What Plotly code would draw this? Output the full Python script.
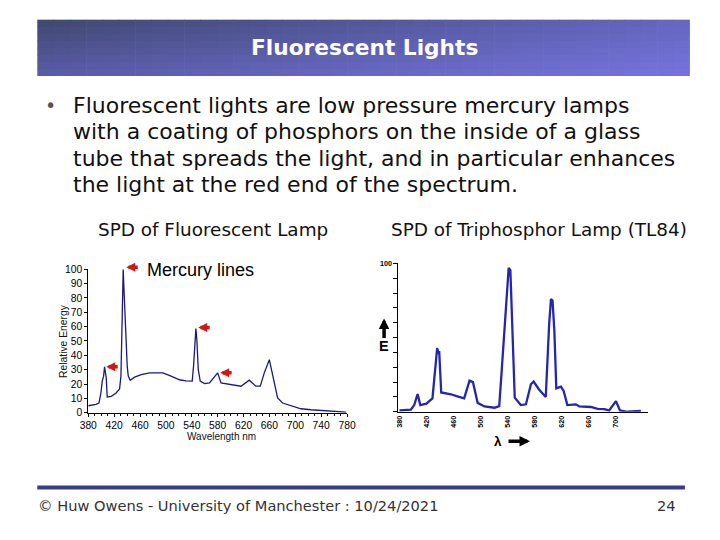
import plotly.graph_objects as go

# page geometry: figure sits inside the default 8px body margin
OX, OY = 8, 8
FW, FH = 704, 524
# measured photo mapping (photo px = A + S * page px)
SX, AX0 = 0.975, 7.9
SY, AY0 = 0.973, 6.6

# ---------------- data ----------------
left_wl = [380, 392, 396.5, 399.6, 401.6, 403.7, 405.2, 406.8, 407.8, 409.3, 415.5, 423, 428.4,
           430.5, 432.5, 434, 435.6, 437, 438.7, 440.2, 441.8, 444.9, 451.6, 461.9, 474.7, 495.3,
           508, 521, 531, 540.6, 542.7, 544.7, 546.3, 547.8, 550, 553, 559.7, 567.4, 575, 580,
           585.1, 600.5, 616, 628.8, 639, 645.8, 652, 659.8, 664.9, 672.6, 680.4, 693.3, 708.7,
           724, 742, 760, 778.5]
left_energy = [4.9, 5.8, 6.8, 13.8, 22, 25.5, 32, 27.8, 24.3, 11, 11.4, 13.8, 16.6,
               25.5, 58, 100, 81.5, 65, 58, 32.5, 25.5, 22.7, 24.8, 26.6, 27.8, 27.8,
               25.5, 23, 22.2, 22, 32.5, 46.5, 58.6, 51, 30, 22, 20.3, 20.8, 25.5, 27.8,
               20.8, 19.6, 18.5, 22.7, 18.5, 18.5, 27.8, 37, 25.5, 10.3, 6.8, 4.9, 2.8,
               2.1, 1.6, 0.7, 0.5]
left_xticks = [380, 420, 460, 500, 540, 580, 620, 660, 700, 740, 780]
left_yticks = [0, 10, 20, 30, 40, 50, 60, 70, 80, 90, 100]

right_wl = [380, 397, 402, 407, 411, 420, 429, 433, 436, 438, 439, 442, 456.5, 466, 476, 484,
            489, 496, 506, 521, 528, 532, 535.5, 539.5, 542, 544.5, 548, 551, 560, 567.6, 575,
            579, 587, 597, 602, 604.7, 607, 609.7, 612.6, 619.5, 623.5, 629, 641.7, 646.7, 664,
            674, 683.7, 691, 701, 707, 718, 728, 738]
right_energy = [1, 1.4, 4.5, 12, 4.5, 5.5, 9, 27.6, 43, 39, 41, 13, 11.8, 10.4, 9, 21,
                20, 6, 3.6, 2.7, 3.8, 30, 52.5, 81, 97, 95.5, 45.7, 9.5, 4.5, 5, 18.5,
                20.4, 15, 10, 59, 76, 75, 55, 15.8, 17, 14, 4.5, 5, 3.6, 3.2,
                2, 1.8, 0.9, 7.2, 0.9, 0, 0, 0.5]
right_xticks = [380, 420, 460, 500, 540, 580, 620, 660, 700]
right_yticks = [0, 10, 20, 30, 40, 50, 60, 70, 80, 90, 100]

title = "Fluorescent Lights"
bullet_lines = [
    "Fluorescent lights are low pressure mercury lamps",
    "with a coating of phosphors on the inside of a glass",
    "tube that spreads the light, and in particular enhances",
    "the light at the red end of the spectrum.",
]
footer = "© Huw Owens - University of Manchester : 10/24/2021"
page = "24"


def px(x):
    d = (x - AX0) / SX
    return (d - OX) / FW


def py(y):
    d = (y - AY0) / SY
    return 1 - (d - OY) / FH


fig = go.Figure()

fig.add_trace(go.Scatter(x=left_wl, y=left_energy, mode="lines",
                         line=dict(color="#1a1a78", width=1.3),
                         xaxis="x", yaxis="y", showlegend=False, hoverinfo="skip"))
fig.add_trace(go.Scatter(x=right_wl, y=right_energy, mode="lines",
                         line=dict(color="#2626aa", width=2.3),
                         xaxis="x2", yaxis="y2", showlegend=False, hoverinfo="skip"))

shapes = []
# title bar gradient (bilinear)
TL, BL, TR, BR = (63, 72, 112), (90, 92, 168), (100, 102, 192), (118, 116, 222)
x0b, x1b, y0b, y1b = 36, 689, 21, 77
nc, nr = 40, 8
for i in range(nc):
    for j in range(nr):
        u = (i + 0.5) / nc
        v = (j + 0.5) / nr
        c = [round((1 - u) * (1 - v) * TL[k] + u * (1 - v) * TR[k] + (1 - u) * v * BL[k] + u * v * BR[k])
             for k in range(3)]
        xa = x0b + (x1b - x0b) * i / nc
        xb = x0b + (x1b - x0b) * (i + 1) / nc + 0.6
        ya = y0b + (y1b - y0b) * j / nr
        yb = y0b + (y1b - y0b) * (j + 1) / nr + 0.6
        shapes.append(dict(type="rect", xref="paper", yref="paper",
                           x0=px(xa), x1=px(min(xb, x1b)), y0=py(ya), y1=py(min(yb, y1b)),
                           fillcolor="rgb(%d,%d,%d)" % tuple(c), line=dict(width=0), layer="below"))
# bottom bar
shapes.append(dict(type="rect", xref="paper", yref="paper", x0=px(36), x1=px(684),
                   y0=py(488), y1=py(484), fillcolor="#363b8c", line=dict(width=0)))

ann = []
ann.append(dict(text="<b>" + title + "</b>", x=px(363), y=py(49), xref="paper", yref="paper",
                showarrow=False, font=dict(family="DejaVu Sans", size=21.7, color="white"),
                xanchor="center", yanchor="middle"))
ann.append(dict(text="•", x=px(49), y=py(106), xref="paper", yref="paper", showarrow=False,
                font=dict(family="DejaVu Sans", size=19, color="#555555"),
                xanchor="center", yanchor="middle"))
for k, line in enumerate(bullet_lines):
    ann.append(dict(text=line, x=px(70), y=py(106 + 26.4 * k), xref="paper", yref="paper",
                    showarrow=False, font=dict(family="DejaVu Sans", size=22, color="#111111"),
                    xanchor="left", yanchor="middle"))
ann.append(dict(text="SPD of Fluorescent Lamp", x=px(212), y=py(230), xref="paper", yref="paper",
                showarrow=False, font=dict(family="DejaVu Sans", size=18.4, color="#111111"),
                xanchor="center", yanchor="middle"))
ann.append(dict(text="SPD of Triphosphor Lamp (TL84)", x=px(538), y=py(230), xref="paper", yref="paper",
                showarrow=False, font=dict(family="DejaVu Sans", size=18.4, color="#111111"),
                xanchor="center", yanchor="middle"))
ann.append(dict(text=footer, x=px(35), y=py(504), xref="paper", yref="paper", showarrow=False,
                font=dict(family="DejaVu Sans", size=14.6, color="#333333"),
                xanchor="left", yanchor="middle"))
ann.append(dict(text=page, x=px(677), y=py(504), xref="paper", yref="paper", showarrow=False,
                font=dict(family="DejaVu Sans", size=14.6, color="#333333"),
                xanchor="right", yanchor="middle"))

# left chart labels
ann.append(dict(text="Mercury lines", x=px(144), y=py(270), xref="paper", yref="paper",
                showarrow=False, font=dict(family="Arial", size=18, color="black"),
                xanchor="left", yanchor="middle"))
ann.append(dict(text="Wavelength nm", x=px(220), y=py(435), xref="paper", yref="paper",
                showarrow=False, font=dict(family="Arial", size=10, color="#111111"),
                xanchor="center", yanchor="middle"))
ann.append(dict(text="Relative Energy", x=px(62), y=py(340), xref="paper", yref="paper",
                showarrow=False, font=dict(family="Arial", size=10.3, color="#111111"),
                textangle=-90, xanchor="center", yanchor="middle"))
# red arrows pointing at the mercury lines (head position in slide pixels)
for hx, hy in [(125, 267), (197, 327), (105, 366), (219, 372)]:
    ann.append(dict(x=px(hx), y=py(hy), ax=13, ay=0, xref="paper", yref="paper",
                    text="", showarrow=True, arrowhead=2, arrowsize=0.5, arrowwidth=3.6,
                    arrowcolor="#d01818"))

# right chart labels
ann.append(dict(text="<b>E</b>", x=px(383), y=py(345), xref="paper", yref="paper",
                showarrow=False, font=dict(family="Arial", size=14.5, color="black"),
                xanchor="center", yanchor="middle"))
ann.append(dict(x=px(383), y=py(318), ax=0, ay=21, xref="paper", yref="paper", text="",
                showarrow=True, arrowhead=2, arrowsize=0.6, arrowwidth=3.5, arrowcolor="black"))
ann.append(dict(text="<b>λ</b>", x=px(497), y=py(440), xref="paper", yref="paper",
                showarrow=False, font=dict(family="Arial", size=13.5, color="black"),
                xanchor="center", yanchor="middle"))
ann.append(dict(x=px(529), y=py(440), ax=-23, ay=0, xref="paper", yref="paper", text="",
                showarrow=True, arrowhead=2, arrowsize=0.6, arrowwidth=3.5, arrowcolor="black"))

fig.update_layout(
    width=FW, height=FH, margin=dict(l=0, r=0, t=0, b=0),
    paper_bgcolor="white", plot_bgcolor="rgba(0,0,0,0)",
    shapes=shapes, annotations=ann, showlegend=False,
    xaxis=dict(domain=[px(87), px(346)], range=[380, 780], anchor="y",
               tickvals=left_xticks, ticks="outside", ticklen=3, tickcolor="black",
               minor=dict(dtick=10, ticks="outside", ticklen=2, tickcolor="black"),
               showline=True, linecolor="black", linewidth=1, showgrid=False, zeroline=False,
               tickfont=dict(family="Arial", size=10.3, color="black")),
    yaxis=dict(domain=[py(411.7), py(269)], range=[0, 100], anchor="x",
               tickvals=left_yticks, ticks="outside", ticklen=3, tickcolor="black",
               showline=True, linecolor="black", linewidth=1, showgrid=False, zeroline=False,
               tickfont=dict(family="Arial", size=10.3, color="black")),
    xaxis2=dict(domain=[px(397.3), px(646.7)], range=[378.5, 748], anchor="y2",
                tickvals=right_xticks, ticks="", tickangle=-90,
                showline=True, linecolor="black", linewidth=1, showgrid=False, zeroline=False,
                tickfont=dict(family="Arial", size=7.2, color="black", weight="bold")),
    yaxis2=dict(domain=[py(410.7), py(263.3)], range=[0, 100], anchor="x2",
                tickvals=right_yticks, ticktext=[""] * 10 + ["100"],
                ticks="outside", ticklen=4, tickcolor="black",
                showline=True, linecolor="black", linewidth=1, showgrid=False, zeroline=False,
                tickfont=dict(family="Arial", size=7.2, color="black", weight="bold")),
)

fig.write_html("out.html")
